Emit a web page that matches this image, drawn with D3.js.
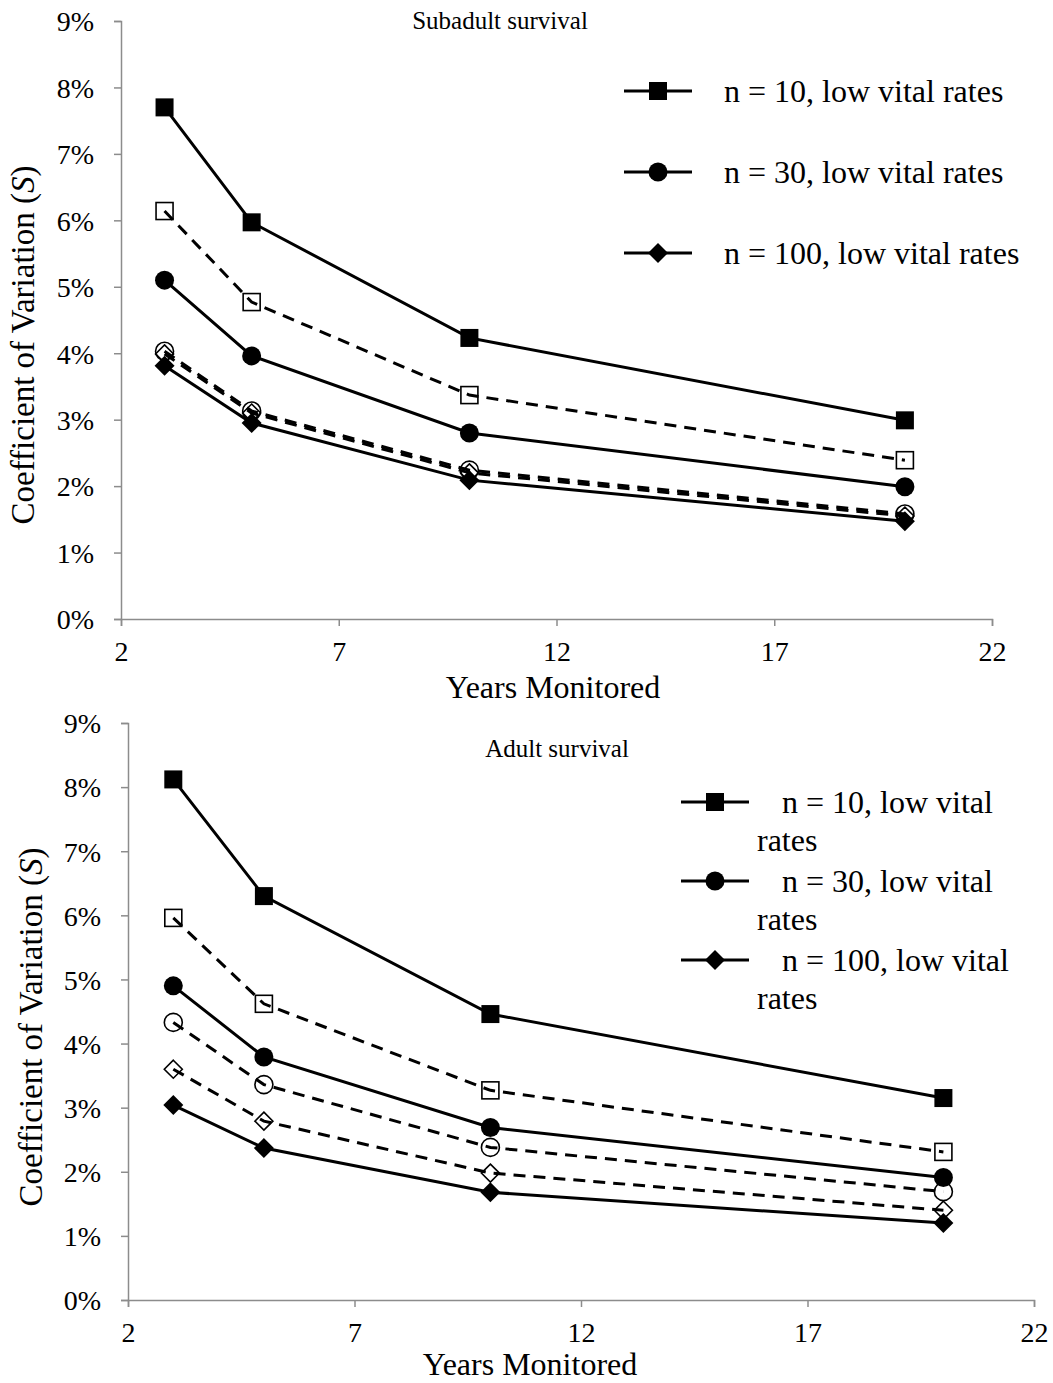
<!DOCTYPE html>
<html>
<head>
<meta charset="utf-8">
<script src="https://cdn.jsdelivr.net/npm/d3@7"></script>
<style>
  body { margin: 0; background: #fff; }
  svg { display: block; font-family: "Liberation Serif", "Times New Roman", serif; }
</style>
</head>
<body>
<svg id="chart" width="1053" height="1383"></svg>
<script>
// years on the x axis
var years = [3, 5, 10, 20];
var xTicks = [2, 7, 12, 17, 22];
var yTicks = [0, 1, 2, 3, 4, 5, 6, 7, 8, 9];

// subadult survival (percent CV)
var sub_n10 = [7.70, 5.97, 4.23, 2.99];
var sub_n10_dash = [6.14, 4.77, 3.37, 2.39];
var sub_n30 = [5.10, 3.96, 2.80, 1.99];
var sub_n30_dash = [4.03, 3.13, 2.24, 1.58];
var sub_n100_dash = [3.99, 3.10, 2.20, 1.55];
var sub_n100 = [3.81, 2.95, 2.09, 1.47];

// adult survival (percent CV)
var ad_n10 = [8.12, 6.30, 4.46, 3.15];
var ad_n10_dash = [5.96, 4.62, 3.27, 2.31];
var ad_n30 = [4.90, 3.79, 2.69, 1.91];
var ad_n30_dash = [4.33, 3.36, 2.38, 1.69];
var ad_n100_dash = [3.60, 2.79, 1.98, 1.40];
var ad_n100 = [3.04, 2.37, 1.68, 1.20];

var legendLabels = ["n = 10, low vital rates", "n = 30, low vital rates", "n = 100, low vital rates"];

var svg = d3.select("#chart");

function marker(g, shape, open, cx, cy) {
	var fill = open ? "none" : "#000";
	var sw = open ? 1.6 : 0;
	if (shape == "square") {
		var s = open ? 17 : 18;
		g.append("rect").attr("x", cx - s/2).attr("y", cy - s/2).attr("width", s).attr("height", s)
			.style("fill", fill).style("stroke", "#000").style("stroke-width", sw);
	} else if (shape == "circle") {
		g.append("circle").attr("cx", cx).attr("cy", cy).attr("r", open ? 9 : 9.5)
			.style("fill", fill).style("stroke", "#000").style("stroke-width", sw);
	} else {
		var r = open ? 9 : 10;
		g.append("path").attr("d", "M" + cx + "," + (cy - r) + "L" + (cx + r) + "," + cy + "L" + cx + "," + (cy + r) + "L" + (cx - r) + "," + cy + "Z")
			.style("fill", fill).style("stroke", "#000").style("stroke-width", sw);
	}
}

function drawPanel(p) {
	var x = d3.scaleLinear().domain([2, 22]).range([p.left, p.right]);
	var y = d3.scaleLinear().domain([0, 9]).range([p.bottom, p.top]);
	var g = svg.append("g");

	var xAxis = d3.axisBottom(x).tickValues(xTicks).tickSize(7).tickPadding(10);
	var yAxis = d3.axisLeft(y).tickValues(yTicks).tickSize(7).tickPadding(p.yPad).tickFormat(function(d){ return d + "%"; });

	var gx = g.append("g").attr("transform", "translate(0," + p.bottom + ")").call(xAxis);
	var gy = g.append("g").attr("transform", "translate(" + p.left + ",0)").call(yAxis);
	[gx, gy].forEach(function(a){
		a.select(".domain").style("stroke", "#8c8c8c").style("stroke-width", 1.5);
		a.selectAll(".tick line").style("stroke", "#8c8c8c").style("stroke-width", 1.5);
		a.selectAll("text").style("font-size", "28px").style("fill", "#000")
			.style("font-family", "'Liberation Serif', 'Times New Roman', serif");
	});
	gx.selectAll("text").attr("dy", "0.9em");
	gy.selectAll("text").attr("dy", "0.35em");

	// axis titles
	g.append("text").attr("x", p.xTitleX).attr("y", p.xTitleY).attr("text-anchor", "middle")
		.style("font-size", "32px").text("Years Monitored");
	var yt = g.append("text").attr("transform", "translate(" + p.yTitleX + "," + p.yTitleY + ") rotate(-90)")
		.attr("text-anchor", "middle").style("font-size", "33px");
	yt.append("tspan").text("Coefficient of Variation (");
	yt.append("tspan").style("font-style", "italic").text("S");
	yt.append("tspan").text(")");

	g.append("text").attr("x", p.titleX).attr("y", p.titleY).attr("text-anchor", "middle")
		.style("font-size", "25px").text(p.title);

	var line = d3.line().x(function(d, i){ return x(years[i]); }).y(function(d){ return y(d); });

	p.series.forEach(function(s) {
		g.append("path").datum(s.values).attr("d", line)
			.style("fill", "none").style("stroke", "#000").style("stroke-width", 3)
			.style("stroke-dasharray", s.open ? "12,8" : null);
		s.values.forEach(function(v, i) {
			marker(g, s.shape, s.open, x(years[i]), y(v));
		});
	});

	// legend
	var lg = g.append("g");
	legendLabels.forEach(function(lab, i) {
		var ly = p.legY + i * p.legStep;
		lg.append("line").attr("x1", p.legX).attr("x2", p.legX + 68).attr("y1", ly).attr("y2", ly)
			.style("stroke", "#000").style("stroke-width", 3);
		marker(lg, ["square", "circle", "diamond"][i], false, p.legX + 34, ly);
		if (p.wrap) {
			var parts = lab.split(" rates");
			lg.append("text").attr("x", p.legX + 101).attr("y", ly + 11).style("font-size", "32px").text(parts[0]);
			lg.append("text").attr("x", p.legX + 76).attr("y", ly + 49).style("font-size", "32px").text("rates");
		} else {
			lg.append("text").attr("x", p.legX + 100).attr("y", ly + 11).style("font-size", "32px").text(lab);
		}
	});
}

drawPanel({
	left: 121, right: 992, top: 21, bottom: 619, yPad: 20,
	title: "Subadult survival", titleX: 500, titleY: 29,
	xTitleX: 553, xTitleY: 698, yTitleX: 34, yTitleY: 345,
	legX: 624, legY: 91, legStep: 81, wrap: false,
	series: [
		{values: sub_n10, shape: "square", open: false},
		{values: sub_n10_dash, shape: "square", open: true},
		{values: sub_n30, shape: "circle", open: false},
		{values: sub_n30_dash, shape: "circle", open: true},
		{values: sub_n100_dash, shape: "diamond", open: true},
		{values: sub_n100, shape: "diamond", open: false}
	]
});

drawPanel({
	left: 128, right: 1034, top: 723, bottom: 1300, yPad: 20,
	title: "Adult survival", titleX: 557, titleY: 757,
	xTitleX: 530, xTitleY: 1375, yTitleX: 42, yTitleY: 1027,
	legX: 681, legY: 802, legStep: 79, wrap: true,
	series: [
		{values: ad_n10, shape: "square", open: false},
		{values: ad_n10_dash, shape: "square", open: true},
		{values: ad_n30, shape: "circle", open: false},
		{values: ad_n30_dash, shape: "circle", open: true},
		{values: ad_n100_dash, shape: "diamond", open: true},
		{values: ad_n100, shape: "diamond", open: false}
	]
});
</script>
</body>
</html>
